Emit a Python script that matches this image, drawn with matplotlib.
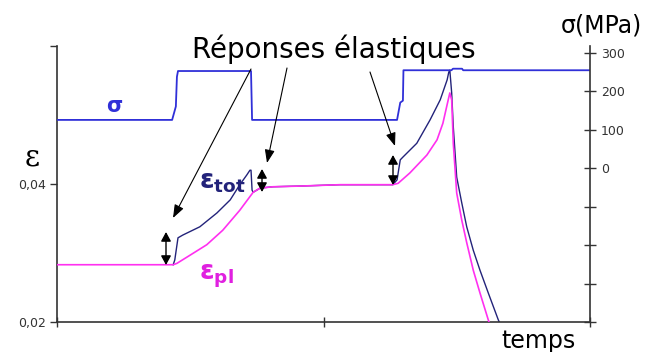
import matplotlib
matplotlib.use("Agg")
import matplotlib.pyplot as plt
from matplotlib.patches import FancyArrowPatch

plt.rcParams["font.family"] = ["DejaVu Sans"]

# time in arbitrary units (0 - 100)
T_SIGMA = [0, 21.6, 22.3, 22.5, 22.7, 36.4, 36.6, 63.8, 64.4, 64.9, 65.0, 74.0, 74.3,
           76.0, 76.2, 100]
SIGMA = [125, 125, 160, 237, 252, 252, 125, 125, 170, 175, 254, 254, 258, 258, 254, 254]

T_PL = [0, 21.8, 22.5, 25.0, 28.1, 31.1, 34.3, 36.8, 38.1, 40.5, 45.6, 53.1, 63.0, 64.0,
        66.2, 69.4, 71.3, 72.4, 73.4, 73.7, 74.05, 74.35, 74.99, 75.93, 76.87, 78.10,
        79.36, 80.92, 81.15]
EPS_PL = [0.0283, 0.0283, 0.0285, 0.0297, 0.0312, 0.0333, 0.0362, 0.0388, 0.0394, 0.0396,
          0.0397, 0.0399, 0.0399, 0.0401, 0.0416, 0.0442, 0.0464, 0.0488, 0.0522, 0.0532,
          0.0522, 0.0459, 0.0387, 0.0348, 0.0315, 0.0275, 0.0242, 0.0203, 0.0198]

T_TOT = [21.8, 22.1, 22.7, 23.6, 26.8, 30.0, 32.5, 34.3, 35.6, 36.2, 36.4, 36.6, 36.8,
         38.1, 40.5, 45.6, 53.1, 63.0, 63.8, 64.4, 64.9, 67.5, 70.0, 71.9, 73.2, 73.5,
         73.7, 74.05, 74.35, 74.99, 75.93, 76.87, 78.10, 79.36, 80.92, 82.80, 83.1]
EPS_TOT = [0.0283, 0.0290, 0.0322, 0.0326, 0.0338, 0.0358, 0.0377, 0.0399, 0.0413,
           0.0420, 0.0420, 0.0391, 0.0388, 0.0394, 0.0396, 0.0397, 0.0399, 0.0399,
           0.0406, 0.0435, 0.0439, 0.0459, 0.0493, 0.0522, 0.0551, 0.0562, 0.0565,
           0.0532, 0.0483, 0.0410, 0.0373, 0.0338, 0.0304, 0.0275, 0.0242, 0.0203, 0.0198]

fig = plt.figure(figsize=(6.48, 3.52), dpi=100)
ax = fig.add_axes([57 / 648, 30 / 352, 533 / 648, 276 / 352])
ax2 = ax.twinx()

BLUE = "#3030d8"
NAVY = "#23237a"
MAGENTA = "#ff30f0"

ax.plot(T_TOT, EPS_TOT, color=NAVY, lw=1.0, zorder=2)
ax.plot(T_PL, EPS_PL, color=MAGENTA, lw=1.2, zorder=3)
ax2.plot(T_SIGMA, SIGMA, color=BLUE, lw=1.3)

ax.set_xlim(0, 100)
ax.set_ylim(0.02, 0.06)
ax2.set_ylim(-400, 317)

for a in (ax, ax2):
    for s in a.spines.values():
        s.set_color("#333333")
        s.set_linewidth(1.2)
    a.spines["top"].set_visible(False)
ax.spines["right"].set_visible(False)
ax2.spines["left"].set_visible(False)
ax2.spines["bottom"].set_visible(False)

ax.set_yticks([0.02, 0.04, 0.06])
ax.set_yticklabels(["0,02", "0,04", ""], fontsize=9, color="#333333")
ax.tick_params(axis="y", direction="out", length=5, color="#333333", width=1, pad=3)
ax.set_xticks([0, 50, 100])
ax.set_xticklabels([])
ax.tick_params(axis="x", direction="inout", length=7, color="#333333", width=1)

ax2.set_yticks([-400, -300, -200, -100, 0, 100, 200, 300])
ax2.set_yticklabels(["", "", "", "", "0", "100", "200", "300"], fontsize=9, color="#333333")
ax2.tick_params(axis="y", direction="inout", length=8, color="#333333", width=1, pad=4)

ax.patch.set_visible(False)

# labels
fig.text(601 / 648, 1 - 25 / 352, "σ(MPa)", fontsize=17, ha="center", va="center")
fig.text(538 / 648, 1 - 341 / 352, "temps", fontsize=17, ha="center", va="center")
fig.text(32 / 648, 1 - 158 / 352, "ε", fontsize=21, ha="center", va="center",
         family="DejaVu Serif")
fig.text(334 / 648, 1 - 49 / 352, "Réponses élastiques", fontsize=20, ha="center",
         va="center")
fig.text(114 / 648, 1 - 106 / 352, "σ", fontsize=15, ha="center", va="center",
         color=BLUE, fontweight="bold")
fig.text(199 / 648, 1 - 182 / 352, r"$\mathbf{\varepsilon}_{\mathbf{tot}}$", fontsize=19,
         ha="left", va="center", color=NAVY)
fig.text(199 / 648, 1 - 276 / 352, r"$\mathbf{\varepsilon}_{\mathbf{pl}}$", fontsize=19,
         ha="left", va="center", color="#e020e0")


def fpt(px, py):
    return (px / 648, 1 - py / 352)


# arrows from the text to the elastic jumps
for start, end in [((251, 69), (173, 218)), ((287, 68), (267, 163)), ((370, 72), (395, 146))]:
    fig.patches.append(FancyArrowPatch(
        fpt(*start), fpt(*end), transform=fig.transFigure,
        arrowstyle="-|>,head_length=0.8,head_width=0.3", mutation_scale=10,
        color="black", lw=0.8, shrinkA=0, shrinkB=0))

# elastic jumps
for x, y0, y1 in [(166, 232, 265), (262, 169, 192), (393, 155, 185)]:
    fig.patches.append(FancyArrowPatch(
        fpt(x, y0), fpt(x, y1), transform=fig.transFigure,
        arrowstyle="<|-|>,head_length=0.55,head_width=0.3", mutation_scale=10,
        color="black", lw=1.0, shrinkA=0, shrinkB=0))

fig.savefig("out.png", dpi=100)
